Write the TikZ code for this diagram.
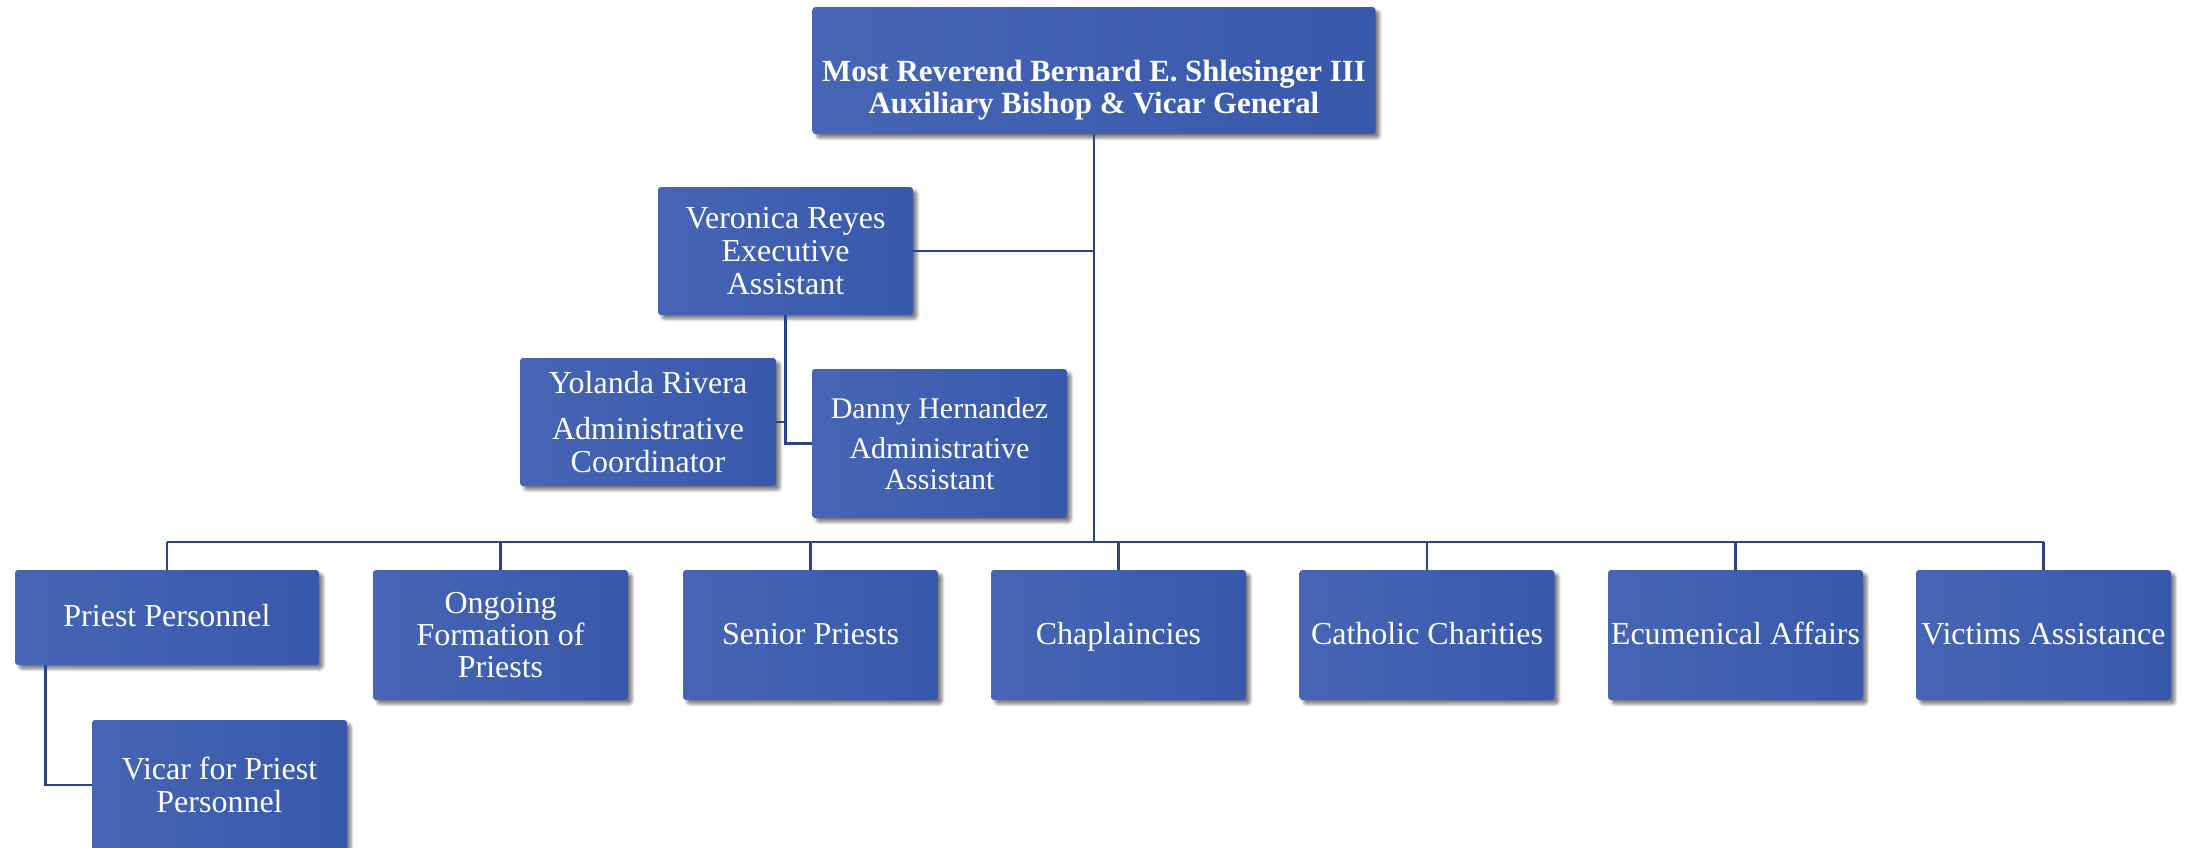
\documentclass[tikz,border=0pt]{standalone}
\usepackage{fontspec}
\setmainfont{Liberation Serif}
\usetikzlibrary{shadows.blur,calc}
\definecolor{boxL}{RGB}{70,101,180}
\definecolor{boxR}{RGB}{56,88,172}
\definecolor{linec}{RGB}{44,66,136}
\tikzset{
 box/.style={rectangle, rounded corners=1.5pt, left color=boxL, right color=boxR, text=white, align=center, inner sep=0pt,
   blur shadow={shadow xshift=2pt, shadow yshift=-2pt, shadow blur radius=1.5pt, shadow opacity=50},
   font=\fontsize{16}{16.5}\selectfont},
 wbox/.style={box, minimum width=127.5pt, minimum height=65pt},
 oneline/.style={text height=11.5pt, text depth=2.1pt},
 conn/.style={draw=linec, line width=1.2pt},
}
\begin{document}
\begin{tikzpicture}[x=0.5pt,y=-0.5pt]
\useasboundingbox (0,0) rectangle (2185,847);
% top
\node[box, minimum width=281.5pt, minimum height=63.5pt] (top) at (1094,70.5) {};
\node[font=\bfseries\fontsize{15.4}{16}\selectfont, text=white, align=center] (toptext) at (1094,90)
  {Most Reverend Bernard E. Shlesinger III\\Auxiliary Bishop \& Vicar General};
% assistants
\node[box, minimum width=127.5pt, minimum height=64pt] (ver) at (785.5,251) {Veronica Reyes\\Executive\\Assistant};
\node[box, minimum width=128pt, minimum height=64pt] (yol) at (648,422) {Yolanda Rivera\\[6.5pt]Administrative\\Coordinator};
\node[box, minimum width=127.5pt, minimum height=74.5pt, font=\fontsize{15}{15.5}\selectfont] (dan) at (939.5,443.5) {Danny Hernandez\\[4.5pt]Administrative\\Assistant};
% bottom row
\node[box, oneline, minimum width=152pt, minimum height=47.5pt] (pp) at (167,617.5) {Priest Personnel};
\node[wbox, font=\fontsize{16}{16}\selectfont] (of) at (500.5,635) {Ongoing\\Formation of\\Priests};
\node[wbox, oneline] (sp) at (810.5,635) {Senior Priests};
\node[wbox, oneline] (ch) at (1118.5,635) {Chaplaincies};
\node[wbox, oneline] (cc) at (1427,635) {Catholic Charities};
\node[wbox, oneline] (ea) at (1735.5,635) {Ecumenical Affairs};
\node[wbox, oneline] (va) at (2043.5,635) {Victims Assistance};
\node[wbox] (vic) at (219.5,785) {Vicar for Priest\\Personnel};
% connectors
\coordinate (bus) at (1094,542);
\draw[conn] (top.south) -- (bus);
\draw[conn] (ver.east) -- (ver.east -| top.south);
\draw[conn] (pp.north |- bus) -- (va.north |- bus);
\foreach \n in {pp,of,sp,ch,cc,ea,va} \draw[conn] (\n.north |- bus) -- (\n.north);
\draw[conn] (ver.south) -- (ver.south |- dan.west) -- (dan.west);
\draw[conn] (yol.east) -- (yol.east -| ver.south);
\coordinate (ppc) at ($(pp.south west)+(31,0)$);
\draw[conn] (ppc) |- (vic.west);
\end{tikzpicture}
\end{document}
